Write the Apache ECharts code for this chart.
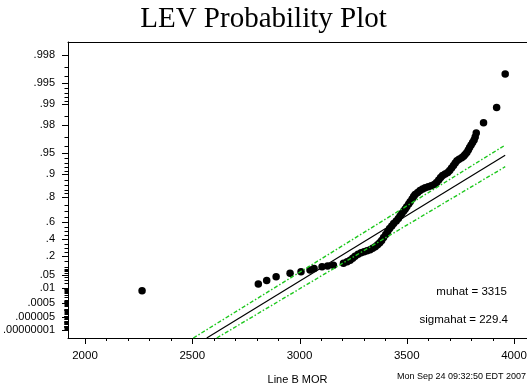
<!DOCTYPE html>
<html><head><meta charset="utf-8">
<script src="https://cdn.jsdelivr.net/npm/echarts@6/dist/echarts.min.js"></script>
<style>html,body{margin:0;padding:0;background:#fff}#c{width:527px;height:389px}</style>
</head><body><div id="c"></div>
<script>
// ---- data ----
const morValues = [2266,2808,2847,2891,2956,3007,3049,3068,3105,3131,3158,3205,3222,3236,3248,3259,3273,3287,3301,3315,3329,3341,3353,3364,3374,3383,3392,3402,3411,3420,3430,3439,3451,3461,3469,3477,3486,3493,3500,3509,3516,3525,3532,3539,3551,3562,3574,3586,3600,3614,3628,3639,3649,3658,3667,3679,3691,3700,3709,3718,3726,3734,3744,3756,3765,3772,3780,3787,3793,3800,3807,3814,3819,3824,3858,3919,3959];
const fractionFailing = [0.00642,0.01757,0.02768,0.04192,0.05935,0.06807,0.07889,0.08922,0.10267,0.10815,0.11627,0.13352,0.14540,0.15966,0.17963,0.20058,0.22238,0.23925,0.25067,0.26226,0.27397,0.29170,0.30970,0.33393,0.35832,0.38883,0.42523,0.46112,0.49625,0.53030,0.55777,0.58432,0.60981,0.63432,0.65776,0.68010,0.70128,0.71737,0.73515,0.75479,0.77060,0.78798,0.80311,0.81447,0.82530,0.83552,0.84282,0.84849,0.85308,0.85745,0.86303,0.87127,0.88091,0.88986,0.89655,0.90132,0.90586,0.91162,0.91836,0.92461,0.93040,0.93514,0.93839,0.94110,0.94388,0.94704,0.95036,0.95422,0.95779,0.96108,0.96412,0.96693,0.97002,0.97369,0.98125,0.98871,0.99628];
const fitMor = [2567.6, 3958.9];
const fitFrac = [2.8e-11, 0.94598];
const upperMor = [2505, 3959];
const upperFrac = [2.8e-11, 0.96108];
const lowerMor = [2614.3, 3959];
const lowerFrac = [2.8e-11, 0.92169];
const muhatText = 'muhat = 3315';
const sigmahatText = 'sigmahat = 229.4';
const stampText = 'Mon Sep 24 09:32:50 EDT 2007';
const yTickProbs = [0.00000001,0.000005,0.0005,0.01,0.05,0.2,0.4,0.6,0.8,0.9,0.95,0.98,0.99,0.995,0.998];
const yTickLabels = ['.00000001','.000005','.0005','.01','.05','.2','.4','.6','.8','.9','.95','.98','.99','.995','.998'];
const yMinorProbs = [0.997,0.996,0.994,0.993,0.992,0.991,0.985,0.97,0.96,0.94,0.93,0.92,0.91,0.88,0.86,0.84,0.82,0.75,0.7,0.65,0.55,0.5,0.45,0.35,0.3,0.25,0.15,0.1,0.09,0.08,0.07,0.06,0.04,0.03,0.02];
const decadeExps = [3,4,5,6,7,8];
const decadeMult = [1,2,3,4,5,6,7,8,9];
const xTickValues = [2000,2500,3000,3500,4000];
const xTickLabels = ['2000','2500','3000','3500','4000'];
const xMinorValues = [2100,2200,2300,2400,2600,2700,2800,2900,3100,3200,3300,3400,3600,3700,3800,3900];

// ---- probability-scale transform (LEV) ----
const lev = p => -Math.log(-Math.log(p));
decadeExps.forEach(e => decadeMult.forEach(m => { const v = m * Math.pow(10, -e); if (v < 0.01 && v > 0.00000001) yMinorProbs.push(v); }));
const yMajor = yTickProbs.map(lev);
const yMinor = yMinorProbs.map(lev).sort((a, b) => a - b);
const pts = morValues.map((x, i) => [x, lev(fractionFailing[i])]);
const mk = (xs, ps) => xs.map((x, i) => [x, lev(ps[i])]);

const font = 'Liberation Sans';
const green = '#1ec81e';
const XMIN = 1920.7, XMAX = 4060.6, YMIN = -3.19, YMAX = 6.655;

// ticks drawn through the axes' own scales with a custom series (crisp, pixel aligned)
const tickSeries = (vals, isX, len) => ({
  type: 'custom', xAxisIndex: 0, yAxisIndex: 0, silent: true, clip: false, z: 5,
  data: vals.map(v => [v]),
  renderItem: (params, api) => {
    const v = api.value(0);
    if (isX) {
      const p = api.coord([v, YMIN]);
      const x = Math.round(p[0]) + 0.5, y = Math.round(p[1]);
      return {type: 'line', shape: {x1: x, y1: y, x2: x, y2: y + len}, style: {stroke: '#000', lineWidth: 1}};
    }
    const p = api.coord([XMIN, v]);
    const x = Math.round(p[0]), y = Math.round(p[1]) + 0.5;
    return {type: 'line', shape: {x1: x - len, y1: y, x2: x, y2: y}, style: {stroke: '#000', lineWidth: 1}};
  }
});

const chart = echarts.init(document.getElementById('c'), null, {renderer: 'canvas'});
chart.setOption({
  animation: false,
  backgroundColor: '#fff',
  title: {text: 'LEV Probability Plot', left: 'center', top: 0,
    textStyle: {fontFamily: 'Liberation Serif', fontSize: 29, fontWeight: 'normal', color: '#000'}},
  grid: {left: 68, top: 42, right: 0, bottom: 51, containLabel: false, outerBoundsMode: 'none'},
  xAxis: [
    {type: 'value', position: 'bottom', min: XMIN, max: XMAX,
     name: 'Line B MOR', nameLocation: 'middle', nameGap: 36,
     nameTextStyle: {fontFamily: font, fontSize: 11, color: '#000'},
     axisLine: {show: true, onZero: false, lineStyle: {color: '#000', width: 1}},
     axisTick: {show: false},
     axisLabel: {show: true, customValues: xTickValues, margin: 12, fontFamily: font, fontSize: 11.5, color: '#000',
       formatter: v => xTickLabels[xTickValues.indexOf(v)] ?? ''},
     splitLine: {show: false}},
    {type: 'value', position: 'top', min: XMIN, max: XMAX,
     axisLine: {show: true, onZero: false, lineStyle: {color: '#000', width: 1}},
     axisTick: {show: false}, axisLabel: {show: false}, splitLine: {show: false}}
  ],
  yAxis: [
    {type: 'value', position: 'left', min: YMIN, max: YMAX,
     name: 'Fraction Failing', nameLocation: 'middle', nameGap: 51,
     nameTextStyle: {fontFamily: font, fontSize: 11, color: '#000'},
     axisLine: {show: true, onZero: false, lineStyle: {color: '#000', width: 1}},
     axisTick: {show: false},
     axisLabel: {show: true, customValues: yMajor, margin: 13, fontFamily: font, fontSize: 11, color: '#000',
       formatter: v => { let b = 0, d = 1e9; yMajor.forEach((m, i) => { if (Math.abs(m - v) < d) { d = Math.abs(m - v); b = i; } }); return yTickLabels[b]; }},
     splitLine: {show: false}}
  ],
  series: [
    tickSeries(yMajor, false, 6),
    tickSeries(yMinor, false, 3.5),
    tickSeries(xTickValues, true, 6),
    tickSeries(xMinorValues, true, 3),
    {type: 'scatter', xAxisIndex: 0, yAxisIndex: 0, data: pts, symbol: 'circle', symbolSize: 7.5,
     itemStyle: {color: '#000', opacity: 1}, z: 2},
    {type: 'line', xAxisIndex: 0, yAxisIndex: 0, data: mk(fitMor, fitFrac), showSymbol: false, symbol: 'none',
     lineStyle: {color: '#000', width: 1.2}, z: 3, clip: true},
    {type: 'line', xAxisIndex: 0, yAxisIndex: 0, data: mk(upperMor, upperFrac), showSymbol: false, symbol: 'none',
     lineStyle: {color: green, width: 1.4, type: [4, 2, 1.5, 2]}, z: 4, clip: true},
    {type: 'line', xAxisIndex: 0, yAxisIndex: 0, data: mk(lowerMor, lowerFrac), showSymbol: false, symbol: 'none',
     lineStyle: {color: green, width: 1.4, type: [4, 2, 1.5, 2]}, z: 4, clip: true}
  ],
  graphic: [
    {type: 'text', right: 20, top: 286, style: {text: muhatText, font: '11.5px "Liberation Sans"', fill: '#000'}},
    {type: 'text', right: 19, top: 314, style: {text: sigmahatText, font: '11.5px "Liberation Sans"', fill: '#000'}},
    {type: 'text', left: 397, top: 372, style: {text: stampText, font: '9px "Liberation Sans"', fill: '#000'}}
  ]
});
</script></body></html>
